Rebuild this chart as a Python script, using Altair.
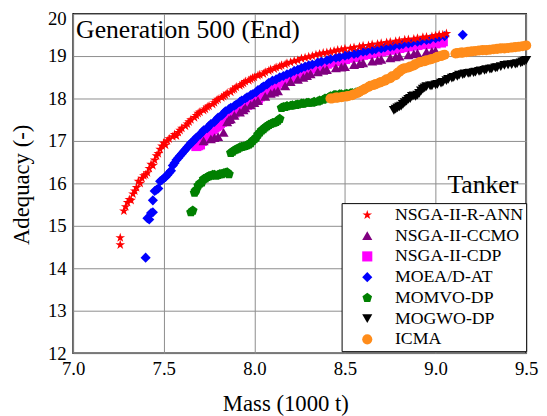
import altair as alt
import pandas as pd

series_names = ["NSGA-II-R-ANN", "NSGA-II-CCMO", "NSGA-II-CDP", "MOEA/D-AT",
                "MOMVO-DP", "MOGWO-DP", "ICMA"]
series_colors = ["#ff0000", "#800080", "#ff00ff", "#0000ff", "#008000", "#000000", "#ff8c1a"]
STAR = "M0,-1L0.2245,-0.309L0.951,-0.309L0.363,0.118L0.588,0.809L0,0.382L-0.588,0.809L-0.363,0.118L-0.951,-0.309L-0.2245,-0.309Z"
PENTA = "M0,-1L0.951,-0.309L0.588,0.809L-0.588,0.809L-0.951,-0.309Z"
series_shapes = [STAR, "triangle-up", "square", "diamond", PENTA, "triangle-down", "circle"]
series_sizes = [105, 105, 70, 115, 135, 105, 100]
draw_order = [4, 2, 1, 3, 5, 6, 7]

r_ann = [(7.26,14.55),(7.26,14.72),(7.28,15.35),(7.30,15.55),(7.32,15.6),(7.33,15.75),(7.35,15.9),
         (7.36,16.05),(7.38,16.12),(7.40,16.2),(7.42,16.35),(7.43,16.45),(7.45,16.55),(7.46,16.65),
         (7.48,16.8),(7.50,16.95),(7.52,17.0),(7.55,17.1),(7.58,17.2),(7.60,17.3),(7.63,17.4),
         (7.65,17.5),(7.68,17.6),(7.70,17.68),(7.73,17.75),(7.75,17.82),(7.78,17.9),(7.80,17.98),
         (7.83,18.05),(7.85,18.12),(7.88,18.2),(7.90,18.27),(7.93,18.33),(7.95,18.4),(7.98,18.45),
         (8.00,18.5),(8.03,18.56),(8.06,18.62),(8.09,18.68),(8.12,18.73),(8.15,18.78),(8.18,18.83),
         (8.22,18.88),(8.26,18.94),(8.30,18.98),(8.34,19.03),(8.38,19.07),(8.42,19.1),(8.46,19.14),
         (8.50,19.17),(8.55,19.2),(8.60,19.24),(8.65,19.27),(8.70,19.3),(8.75,19.33),(8.80,19.36),
         (8.85,19.39),(8.90,19.42),(8.95,19.45),(9.00,19.48),(9.04,19.5),(9.06,19.53),
         (7.29,15.45),(7.31,15.62),(7.34,15.82),(7.37,16.0),(7.39,16.18),(7.41,16.25),(7.44,16.42),
         (7.47,16.7),(7.49,16.88),(7.51,16.9),(7.53,17.05),(7.56,17.15),(7.57,17.12),(7.59,17.25),
         (7.62,17.35),(7.64,17.45),(7.67,17.55),(7.69,17.65),(7.72,17.72),(7.74,17.8),(7.77,17.86),
         (7.79,17.95),(7.82,18.02),(7.84,18.08),(7.87,18.15),(7.89,18.22),(7.92,18.3),(7.94,18.36),
         (7.97,18.42),(7.99,18.48),(8.02,18.54),(8.05,18.58),(8.08,18.65),(8.11,18.7),(8.14,18.75),
         (8.17,18.8),(8.20,18.85),(8.24,18.9),(8.28,18.96),(8.32,19.0),(8.36,19.05),(8.40,19.08),
         (8.44,19.12),(8.48,19.15),(8.53,19.18),(8.58,19.22),(8.63,19.25),(8.68,19.28),(8.73,19.32),
         (8.78,19.35),(8.83,19.38),(8.88,19.4),(8.93,19.44),(8.98,19.46),(9.02,19.5)]

ccmo = [(7.72,17.0),(7.76,17.05),(7.80,17.1),(7.83,17.2),(7.85,17.45),(7.87,17.52),(7.89,17.6),
        (7.92,17.68),(7.95,17.78),(7.98,17.85),(8.02,17.95),(8.06,18.05),(8.09,18.12),(8.13,18.18),
        (8.17,18.3),(8.20,18.4),(8.24,18.45),(8.27,18.5),(8.31,18.58),(8.35,18.63),(8.40,18.68),
        (8.45,18.72),(8.50,18.75),(8.55,18.8),(8.60,18.84),(8.65,18.88),(8.70,18.92),(8.75,18.96),
        (8.80,19.0),(8.85,19.03),(8.90,19.07),(8.95,19.1),(9.00,19.12),
        (7.78,17.08),(7.86,17.5),(7.94,17.73),(8.00,17.9),(8.11,18.15),(8.29,18.54),(8.38,18.66),
        (8.48,18.74),(8.58,18.82),(8.68,18.9),(8.78,18.98),(8.88,19.05),(8.98,19.11)]

cdp = [(7.68,16.88),(7.70,16.92),(7.71,17.0),(7.73,17.1),(7.75,17.2),(7.77,17.28),(7.80,17.38),
       (7.82,17.45),(7.85,17.55),(7.88,17.63),(7.91,17.72),(7.94,17.8),(7.97,17.88),(8.00,17.97),
       (8.03,18.05),(8.06,18.15),(8.09,18.25),(8.12,18.33),(8.16,18.42),(8.20,18.5),(8.25,18.6),
       (8.30,18.68),(8.35,18.75),(8.40,18.82),(8.45,18.88),(8.50,18.93),(8.55,18.98),(8.60,19.03),
       (8.65,19.07),(8.70,19.11),(8.75,19.15),(8.80,19.19),(8.85,19.23),(8.90,19.26),(8.95,19.29),
       (9.00,19.3),(9.04,19.35),
       (7.69,16.9),(7.72,17.05),(7.74,17.15),(7.76,17.25),(7.78,17.32),(7.79,17.35),(7.81,17.42),
       (7.84,17.5),(7.86,17.6),(7.89,17.67),(7.93,17.76),(7.96,17.85),(7.99,17.93),(8.02,18.0),
       (8.05,18.1),(8.08,18.2),(8.11,18.3),(8.14,18.38),(8.18,18.46),(8.22,18.55),(8.28,18.64),
       (8.33,18.72),(8.38,18.79),(8.43,18.85),(8.48,18.9),(8.53,18.96),(8.58,19.0),(8.63,19.05),
       (8.68,19.09),(8.73,19.13),(8.78,19.17),(8.83,19.21),(8.88,19.25),(8.93,19.28),(8.98,19.3),
       (9.03,19.32)]

moead = [(7.40,14.25),(7.41,15.18),(7.42,15.15),(7.43,15.3),(7.44,15.32),(7.44,15.6),(7.45,15.82),
         (7.47,15.88),(7.48,16.05),(7.50,16.12),(7.52,16.2),(7.54,16.3),(7.55,16.42),(7.57,16.55),
         (7.59,16.65),(7.61,16.75),(7.63,16.85),(7.65,16.95),(7.67,17.03),(7.70,17.15),(7.72,17.25),
         (7.75,17.35),(7.78,17.45),(7.80,17.55),(7.83,17.65),(7.86,17.75),(7.89,17.83),(7.92,17.92),
         (7.95,18.0),(7.98,18.08),(8.01,18.15),(8.04,18.25),(8.07,18.33),(8.10,18.42),(8.14,18.5),
         (8.18,18.57),(8.22,18.65),(8.26,18.72),(8.30,18.78),(8.35,18.85),(8.40,18.9),(8.45,18.96),
         (8.50,19.01),(8.55,19.05),(8.60,19.1),(8.65,19.14),(8.70,19.18),(8.75,19.22),(8.80,19.26),
         (8.85,19.3),(8.90,19.34),(8.95,19.38),(9.00,19.42),(9.05,19.47),(9.15,19.5),
         (7.46,15.85),(7.49,16.08),(7.51,16.15),(7.53,16.25),(7.56,16.48),(7.58,16.6),(7.60,16.7),
         (7.62,16.8),(7.64,16.9),(7.66,16.98),(7.68,17.08),(7.71,17.2),(7.74,17.3),(7.76,17.4),
         (7.79,17.5),(7.82,17.6),(7.84,17.7),(7.87,17.78),(7.90,17.86),(7.93,17.95),(7.96,18.03),
         (7.99,18.1),(8.02,18.2),(8.05,18.28),(8.08,18.37),(8.12,18.45),(8.16,18.53),(8.20,18.6),
         (8.24,18.68),(8.28,18.75),(8.32,18.8),(8.37,18.87),(8.42,18.93),(8.47,18.98),(8.52,19.03),
         (8.57,19.07),(8.62,19.12),(8.67,19.16),(8.72,19.2),(8.77,19.24),(8.82,19.28),(8.87,19.32),
         (8.92,19.36),(8.97,19.4),(9.02,19.45)]

momvo = [(7.65,15.32),(7.66,15.36),(7.67,15.78),(7.68,15.85),(7.69,15.95),(7.71,16.02),(7.72,16.1),
         (7.74,16.15),(7.76,16.18),(7.78,16.2),(7.80,16.2),(7.82,16.22),(7.84,16.25),(7.86,16.22),
         (7.87,16.72),(7.89,16.78),(7.91,16.82),(7.93,16.86),(7.95,16.88),(7.97,16.92),(7.99,17.0),
         (8.01,17.08),(8.02,17.15),(8.04,17.25),(8.06,17.32),(8.08,17.38),(8.10,17.42),(8.12,17.45),
         (8.14,17.52),(8.15,17.78),(8.17,17.8),(8.20,17.83),(8.23,17.85),(8.26,17.88),(8.29,17.9),
         (8.32,17.9),(8.35,17.93),(8.38,17.97),(8.41,18.02),(8.44,18.08),(8.47,18.1),(8.50,18.1),
         (8.53,18.12),(8.56,18.14),(8.58,18.17),
         (7.675,15.82),(7.70,16.0),(7.73,16.12),(7.75,16.17),(7.77,16.2),(7.79,16.18),(7.81,16.22),
         (7.83,16.24),(7.85,16.26),(7.88,16.75),(7.90,16.8),(7.92,16.85),(7.94,16.87),(7.96,16.9),
         (7.98,16.95),(8.00,17.04),(8.03,17.2),(8.05,17.28),(8.07,17.35),(8.09,17.4),(8.11,17.43),
         (8.13,17.48),(8.16,17.8),(8.18,17.82),(8.21,17.84),(8.24,17.86),(8.27,17.88),(8.30,17.9),
         (8.33,17.92),(8.36,17.95),(8.39,18.0),(8.42,18.05),(8.45,18.08),(8.48,18.1),(8.51,18.11),
         (8.54,18.13),(8.57,18.15)]

mogwo = [(8.77,17.72),(8.79,17.78),(8.81,17.82),(8.83,17.9),(8.85,17.98),(8.87,18.05),(8.89,18.05),
         (8.91,18.12),(8.93,18.22),(8.95,18.28),(8.98,18.3),(9.01,18.33),(9.04,18.38),(9.07,18.45),
         (9.10,18.5),(9.13,18.55),(9.16,18.58),(9.19,18.6),(9.22,18.62),(9.25,18.65),(9.28,18.68),
         (9.31,18.7),(9.34,18.73),(9.38,18.78),(9.42,18.8),(9.45,18.82),(9.48,18.86),(9.50,18.9),
         (8.78,17.75),(8.80,17.8),(8.82,17.86),(8.84,17.94),(8.86,18.0),(8.88,18.06),(8.90,18.08),
         (8.92,18.18),(8.94,18.25),(8.97,18.3),(9.00,18.32),(9.03,18.36),(9.06,18.42),(9.09,18.48),
         (9.12,18.52),(9.15,18.56),(9.18,18.59),(9.21,18.61),(9.24,18.64),(9.27,18.66),(9.30,18.69),
         (9.33,18.72),(9.36,18.75),(9.40,18.79),(9.44,18.81),(9.47,18.84),(9.49,18.88)]

icma = [(8.42,18.0),(8.45,18.02),(8.48,18.03),(8.51,18.05),(8.54,18.08),(8.57,18.13),(8.60,18.2),
        (8.63,18.27),(8.66,18.32),(8.69,18.37),(8.72,18.42),(8.75,18.48),(8.78,18.55),(8.80,18.63),
        (8.82,18.7),(8.85,18.73),(8.88,18.78),(8.91,18.85),(8.94,18.88),(8.97,18.92),(9.00,18.96),
        (9.03,19.0),(9.05,19.03),(9.12,19.07),(9.15,19.08),(9.18,19.1),(9.22,19.12),(9.26,19.14),
        (9.30,19.15),(9.34,19.17),(9.38,19.18),(9.42,19.2),(9.46,19.22),(9.50,19.25),
        (8.43,18.0),(8.46,18.02),(8.49,18.04),(8.52,18.06),(8.55,18.1),(8.58,18.16),(8.61,18.23),
        (8.64,18.3),(8.67,18.34),(8.70,18.39),(8.73,18.45),(8.76,18.52),(8.79,18.6),(8.81,18.67),
        (8.83,18.71),(8.86,18.75),(8.89,18.81),(8.92,18.86),(8.95,18.9),(8.98,18.93),(9.01,18.98),
        (9.04,19.02),(9.11,19.06),(9.14,19.08),(9.17,19.09),(9.20,19.11),(9.24,19.13),(9.28,19.14),
        (9.32,19.16),(9.36,19.18),(9.40,19.19),(9.44,19.21),(9.48,19.23)]

x_ticks = [7.0, 7.5, 8.0, 8.5, 9.0, 9.5]
y_ticks = [12, 13, 14, 15, 16, 17, 18, 19, 20]

all_series = [r_ann, ccmo, cdp, moead, momvo, mogwo, icma]

rows = []
for name, pts, o in zip(series_names, all_series, draw_order):
    for x, y in pts:
        rows.append({"Mass": x, "Adequacy": y, "Algorithm": name, "ord": o})
df = pd.DataFrame(rows)

FONT = "Liberation Serif"

points = alt.Chart(df).mark_point(filled=True, opacity=1, strokeWidth=0).encode(
    x=alt.X("Mass:Q", scale=alt.Scale(domain=[7.0, 9.5], nice=False),
            axis=alt.Axis(title="Mass (1000 t)", values=x_ticks, labelFlush=False,
                          format=".1f", titleX=215, titleY=58, titleBaseline="alphabetic")),
    y=alt.Y("Adequacy:Q", scale=alt.Scale(domain=[12, 20], nice=False),
            axis=alt.Axis(title="Adequacy (-)", values=y_ticks, labelFlush=False,
                          labelOffset=alt.ExprRef(expr="datum.value == 20 ? 5 : 0"),
                          titleX=-45, titleY=173, titleBaseline="alphabetic", titleAngle=270)),
    color=alt.Color("Algorithm:N", scale=alt.Scale(domain=series_names, range=series_colors),
                    legend=alt.Legend(title=None, orient="none", legendX=272, legendY=192)),
    shape=alt.Shape("Algorithm:N", scale=alt.Scale(domain=series_names, range=series_shapes)),
    size=alt.Size("Algorithm:N", scale=alt.Scale(domain=series_names, range=series_sizes)),
    order=alt.Order("ord:Q"),
)

ann_df = pd.DataFrame({"t": ["Generation 500 (End)"]})
gen_text = alt.Chart(ann_df).mark_text(font=FONT, fontSize=26, align="left",
                                       baseline="alphabetic", color="black").encode(
    x=alt.value(3), y=alt.value(25), text="t:N")

tank_df = pd.DataFrame({"t": ["Tanker"]})
tank_text = alt.Chart(tank_df).mark_text(font=FONT, fontSize=26, align="right",
                                         baseline="alphabetic", color="black").encode(
    x=alt.value(451), y=alt.value(182), text="t:N")

chart = alt.layer(points, gen_text, tank_text).properties(
    width=459, height=344,
    autosize=alt.AutoSizeParams(type="none"),
    padding={"left": 66, "top": 3, "right": 13, "bottom": 61},
).configure_view(stroke="black", strokeWidth=1.5).configure_axis(
    labelFont=FONT, titleFont=FONT, labelFontSize=19, titleFontSize=23,
    labelColor="black", titleColor="black", titleFontWeight="normal",
    grid=True, gridColor="#8c8c8c", gridWidth=1, domain=False, ticks=False,
    labelPadding=7,
).configure_legend(
    labelFont=FONT, labelFontSize=18, labelColor="black",
    strokeColor="black", fillColor="white", padding=3, rowPadding=3,
    symbolOffset=14, labelOffset=19, cornerRadius=0,
)

chart.save("out.html", embed_options={"renderer": "svg", "actions": False})
